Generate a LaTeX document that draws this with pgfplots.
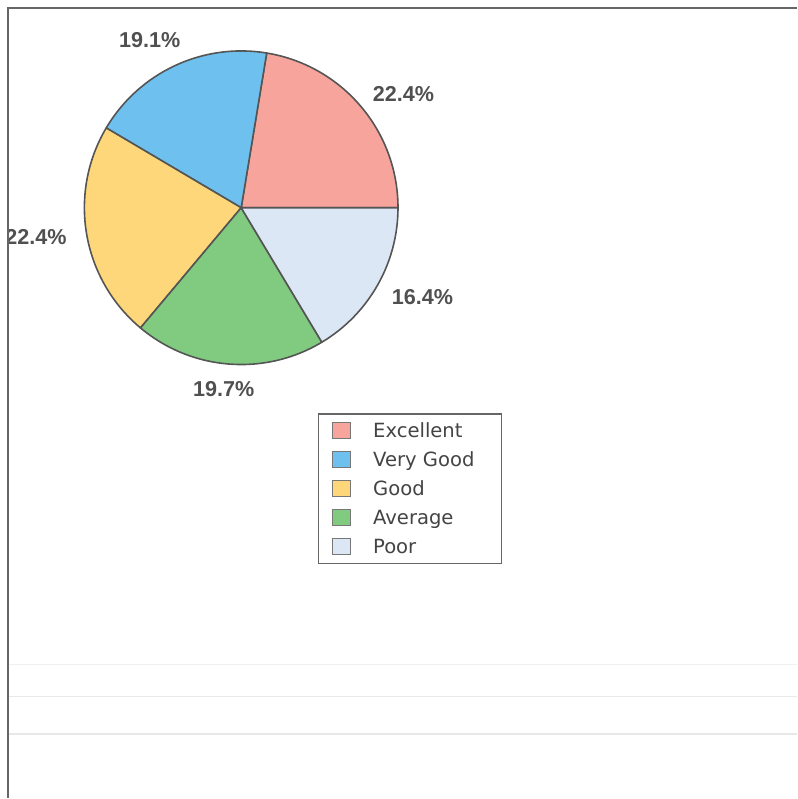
\documentclass[border=0pt]{standalone}
\usepackage{pgfplots}
\pgfplotsset{compat=1.18}
\usepackage{fontspec}
\setmainfont{DejaVu Sans}
\newfontfamily\labfont{Liberation Sans}
\newfontfamily\legfont{DejaVu Sans}
\definecolor{cEx}{HTML}{F7A59C}
\definecolor{cVG}{HTML}{6EC0EE}
\definecolor{cGo}{HTML}{FDD77A}
\definecolor{cAv}{HTML}{80CB80}
\definecolor{cPo}{HTML}{DCE7F5}
\definecolor{edge}{HTML}{555555}
\definecolor{labc}{HTML}{505050}
\definecolor{legc}{HTML}{444444}
\begin{document}
\begin{tikzpicture}
\begin{axis}[
  scale only axis, width=399pt, height=399.5pt,
  xmin=0, xmax=798, ymin=0, ymax=799,
  hide axis, clip=false,
  legend style={
    at={(0.3985,0.4819)}, anchor=north west,
    draw=edge!90, line width=0.6pt, fill=white,
    font=\legfont\fontsize{9.8}{12}\selectfont\color{legc},
    inner xsep=7pt, inner ysep=1.2pt,
    row sep=0pt,
    cells={anchor=west},
    nodes={inner sep=0pt, text height=10.45pt, text depth=4.05pt},
    /tikz/every odd column/.append style={column sep=11pt},
  },
  legend image code/.code={\filldraw[#1,draw=edge!80,line width=0.5pt] (0pt,-4pt) rectangle (9pt,4pt);},
]
\addlegendimage{fill=cEx}\addlegendentry{Excellent}
\addlegendimage{fill=cVG}\addlegendentry{Very Good\hspace*{6.5pt}}
\addlegendimage{fill=cGo}\addlegendentry{Good}
\addlegendimage{fill=cAv}\addlegendentry{Average}
\addlegendimage{fill=cPo}\addlegendentry{Poor}

\pgfplotsextra{
  \gdef\cumang{0}
  \foreach \v/\c in {22.4/cEx,19.1/cVG,22.4/cGo,19.7/cAv,16.4/cPo}{
    \pgfmathsetmacro\s{\cumang}
    \pgfmathsetmacro\e{\cumang+3.6*\v}
    \filldraw[fill=\c, draw=edge, line width=0.8pt, line join=round]
      (axis cs:241.5,591) -- ++(\s:78.5pt) arc[start angle=\s, end angle=\e, radius=78.5pt] -- cycle;
    \xdef\cumang{\e}
  }
}

\draw[gray!12, line width=0.6pt] (axis cs:8,134) -- (axis cs:798,134);
\draw[gray!18, line width=0.6pt] (axis cs:8,102) -- (axis cs:798,102);
\draw[gray!18, line width=0.6pt] (axis cs:8,64) -- (axis cs:798,64);

\begin{scope}[every node/.style={font=\labfont\bfseries\fontsize{10.8}{12}\selectfont, text=labc, inner sep=0pt}]
\node at (axis cs:150,759) {19.1\%};
\node at (axis cs:404,705) {22.4\%};
\node at (axis cs:423,502) {16.4\%};
\node at (axis cs:224,409) {19.7\%};
\node at (axis cs:36,562) {22.4\%};
\end{scope}

\fill[white] (axis cs:0,0) rectangle (axis cs:7.5,799);
\draw[edge!90, line width=1pt] (axis cs:8,0) -- (axis cs:8,791) -- (axis cs:798,791);
\end{axis}
\end{tikzpicture}
\end{document}
